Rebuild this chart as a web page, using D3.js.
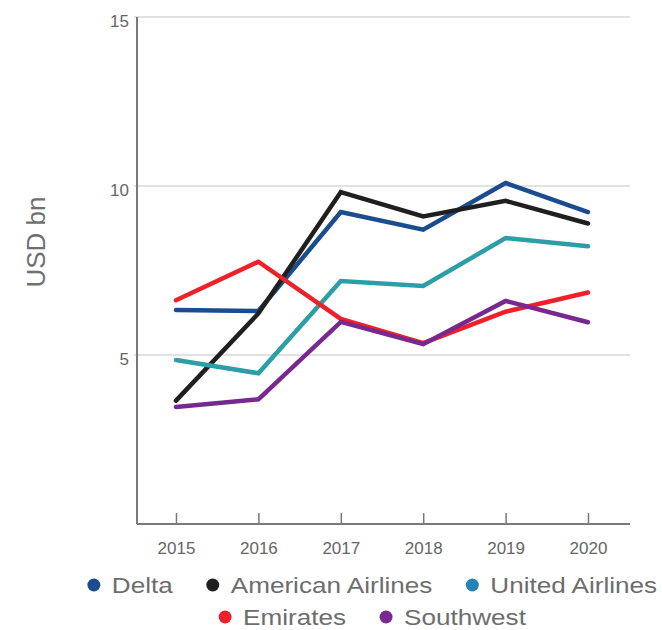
<!DOCTYPE html>
<html>
<head>
<meta charset="utf-8">
<script src="https://cdn.jsdelivr.net/npm/d3@7"></script>
<style>
  body { margin: 0; background: #fff; }
  text { font-family: 'Liberation Sans', Arial, sans-serif; }
</style>
</head>
<body>
<svg id="chart" width="662" height="630"></svg>
<script>
// data
const years = ['2015', '2016', '2017', '2018', '2019', '2020']
const airlines = ['Delta', 'American Airlines', 'United Airlines', 'Emirates', 'Southwest']
const delta = [6.33, 6.30, 9.23, 8.71, 10.09, 9.23]
const american = [3.65, 6.23, 9.82, 9.10, 9.56, 8.89]
const united = [4.85, 4.46, 7.19, 7.04, 8.46, 8.22]
const emirates = [6.62, 7.76, 6.07, 5.35, 6.28, 6.85]
const southwest = [3.46, 3.69, 5.98, 5.32, 6.60, 5.97]
const yTicks = [5, 10, 15]

const lineColors = ['#1b4c8e', '#1f1f1f', '#2b9ea6', '#ee2029', '#78298f']
const dotColors = ['#1b4c8e', '#1f1f1f', '#2584b0', '#ee2029', '#78298f']

var seriesValues = [delta, american, united, emirates, southwest]
var series = airlines.map(function (name, i) {
  return {
    name: name,
    color: lineColors[i],
    values: years.map(function (yr, j) { return { year: yr, value: seriesValues[i][j] } })
  }
})

var svg = d3.select('#chart')

// plot area (plotTop, not top: window.top is read only)
var plotLeft = 137, plotRight = 630, plotTop = 17, plotBottom = 524

var x = d3.scalePoint().domain(years).range([176, 588])
var y = d3.scaleLinear().domain([0, 15]).range([plotBottom, plotTop])

// gridlines
svg.append('g')
  .selectAll('line')
  .data(yTicks)
  .enter()
  .append('line')
  .attr('x1', plotLeft - 3)
  .attr('x2', plotRight)
  .attr('y1', function (d) { return y(d) })
  .attr('y2', function (d) { return y(d) })
  .style('stroke', '#c4c4c4')
  .style('stroke-width', 1)

// y tick labels
svg.append('g')
  .selectAll('text')
  .data(yTicks)
  .enter()
  .append('text')
  .attr('x', plotLeft - 8)
  .attr('y', function (d) { return y(d) + 10 })
  .attr('text-anchor', 'end')
  .style('font-size', '17px')
  .style('fill', '#666')
  .text(function (d) { return d })

// y axis line
svg.append('line')
  .attr('x1', plotLeft).attr('x2', plotLeft)
  .attr('y1', plotTop).attr('y2', plotBottom)
  .style('stroke', '#7a7a7a')
  .style('stroke-width', 2)

// x axis using d3 axis, ticks pointing up
var xAxis = svg.append('g')
  .attr('transform', 'translate(0,' + plotBottom + ')')
  .call(d3.axisBottom(x).tickSizeInner(-11).tickSizeOuter(0).tickPadding(18))
xAxis.select('.domain')
  .attr('d', 'M' + plotLeft + ',0H' + plotRight)
  .style('stroke', '#7a7a7a')
  .style('stroke-width', 2)
xAxis.selectAll('.tick line')
  .style('stroke', '#7a7a7a')
  .style('stroke-width', 1.5)
xAxis.selectAll('.tick text')
  .style('font-family', "'Liberation Sans', Arial, sans-serif")
  .style('font-size', '17px')
  .style('fill', '#666')

// axis title
svg.append('text')
  .attr('transform', 'translate(45,242) rotate(-90)')
  .attr('text-anchor', 'middle')
  .style('font-size', '26px')
  .style('fill', '#6f6f6f')
  .text('USD bn')

// lines
var line = d3.line()
  .x(function (d) { return x(d.year) })
  .y(function (d) { return y(d.value) })

svg.append('g')
  .selectAll('path')
  .data(series)
  .enter()
  .append('path')
  .attr('d', function (d) { return line(d.values) })
  .style('fill', 'none')
  .style('stroke', function (d) { return d.color })
  .style('stroke-width', 4.5)
  .style('stroke-linejoin', 'miter')
  .style('stroke-linecap', 'round')

// legend, two centered rows
var legendRows = [[0, 1, 2], [3, 4]]
var rowY = [593, 625]
var centerX = 372
var stretch = 1.16 // reference legend text is set wider than Liberation Sans

legendRows.forEach(function (row, r) {
  var g = svg.append('g')
  var pos = 7
  var end = 0
  row.forEach(function (idx) {
    var item = g.append('g').attr('transform', 'translate(' + pos + ',0)')
    item.append('circle')
      .attr('cx', 0).attr('cy', -8)
      .attr('r', 6.5)
      .style('fill', dotColors[idx])
    var t = item.append('text')
      .attr('transform', 'translate(18,0) scale(' + stretch + ',1)')
      .style('font-size', '22.5px')
      .style('fill', '#6d6d6d')
      .text(airlines[idx])
    var tw = t.node().getComputedTextLength() * stretch
    end = pos + 18 + tw
    pos = end + 40
  })
  g.attr('transform', 'translate(' + (centerX - end / 2) + ',' + rowY[r] + ')')
})
</script>
</body>
</html>
